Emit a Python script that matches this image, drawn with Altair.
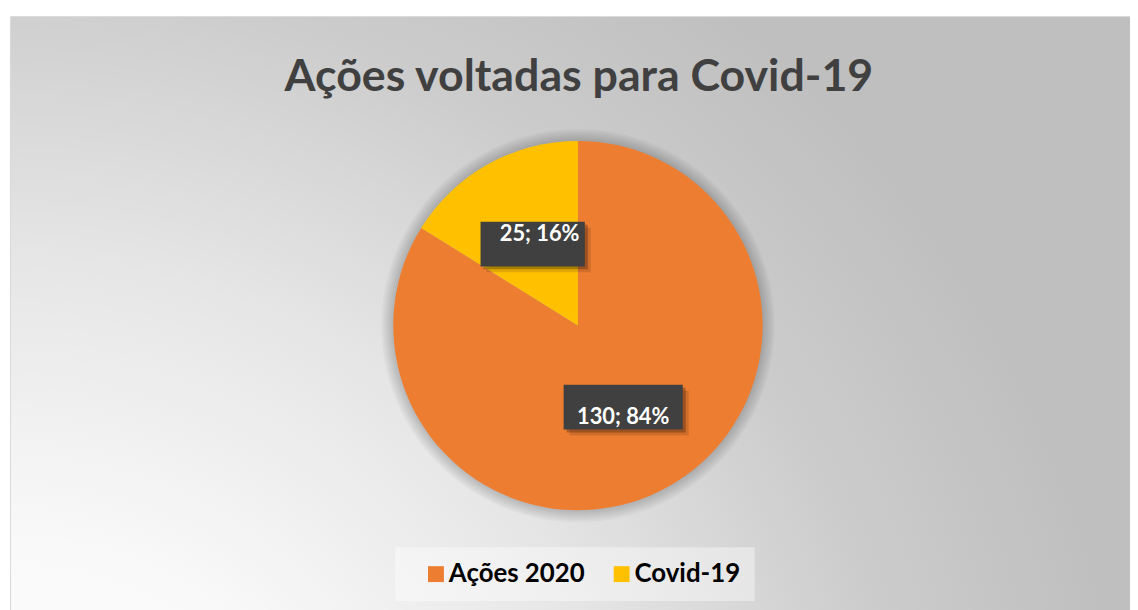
import altair as alt
import numpy as np
import pandas as pd

# ---- data ----
categories = ["Ações 2020", "Covid-19"]
values = [130, 25]
colors = ["#ED7D31", "#FFC000"]
title_text = "Ações voltadas para Covid-19"

# ---- layout (pixels, view coordinates) ----
W, H = 1130, 602
CX, CY = 574.0, 317.7      # pie centre
R = 186                     # pie radius
LR = 0.505 * R              # label distance from centre

vals = np.array(values, dtype=float)
total = vals.sum()
cum = np.cumsum(vals)
mid = 2 * np.pi * (cum - vals / 2) / total
pct = np.round(vals / total * 100).astype(int)
labels = [f"{v}; {p}%" for v, p in zip(values, pct)]

df = pd.DataFrame({
    "cat": categories,
    "value": values,
    "idx": list(range(len(values))),
    "label": labels,
    "cx": LR * np.sin(mid),
    "cy": LR * np.cos(mid),
})

xs = alt.Scale(domain=[-CX, W - CX], nice=False, zero=False)
ys = alt.Scale(domain=[-(H - CY), CY], nice=False, zero=False)

one = alt.Data(values=[{"k": 0}])

# background frame with radial gradient
bg = alt.Chart(one).mark_rect(
    fill={
        "gradient": "radial",
        "x1": 0, "y1": 1, "r1": 0,
        "x2": 0, "y2": 1, "r2": 1,
        "stops": [
            {"offset": 0.0, "color": "#FFFFFF"},
            {"offset": 0.3, "color": "#F9F9F9"},
            {"offset": 0.55, "color": "#E6E6E6"},
            {"offset": 0.8, "color": "#CCCCCC"},
            {"offset": 1.0, "color": "#BFBFBF"},
        ],
    },
    stroke="#D9D9D9",
    strokeWidth=1,
).encode(x=alt.value(2.5), x2=alt.value(W + 10), y=alt.value(6.5), y2=alt.value(H + 10))

# soft shadow around pie
shadows = [
    alt.Chart(one).mark_arc(radius=R + k, theta=0, theta2=2 * np.pi, fill="black", opacity=0.03)
    .encode(x=alt.value(CX), y=alt.value(CY))
    for k in (2, 4, 6, 8, 10, 12)
]

pie = alt.Chart(df).mark_arc(radius=R).encode(
    x=alt.value(CX),
    y=alt.value(CY),
    theta=alt.Theta("value:Q", stack=True),
    color=alt.Color(
        "cat:N",
        scale=alt.Scale(domain=categories, range=colors),
        legend=alt.Legend(
            orient="none", legendX=418, legendY=555, direction="horizontal", title=None,
            symbolType="square", symbolSize=256, symbolStrokeWidth=0, symbolOpacity=1,
            labelFont="Lato", labelFontSize=26, labelFontWeight="bold", labelColor="#000000",
            labelOffset=0, columnPadding=24, padding=0,
        ),
    ),
    order=alt.Order("idx:Q"),
)

legend_box = alt.Chart(one).mark_rect(fill="white", opacity=0.4).encode(
    x=alt.value(390), x2=alt.value(752), y=alt.value(541), y2=alt.value(595)
)

base = alt.Chart(df).transform_calculate(
    bx1="datum.cx - 7.5*length(datum.label)",
    bx2="datum.cx + 7.5*length(datum.label)",
    by1="datum.cy - 22.5",
    by2="datum.cy + 22.5",
    tx="datum.cx + (datum.cy > 0 ? 7 : 0)",
    ty="datum.cy + (datum.cy > 0 ? 10 : -10)",
)

def box_layer(off, color, opacity):
    return base.mark_rect(
        fill=color, opacity=opacity,
        xOffset=off, x2Offset=off, yOffset=off, y2Offset=off,
    ).encode(
        x=alt.X("bx1:Q", scale=xs, axis=None),
        x2="bx2:Q",
        y=alt.Y("by1:Q", scale=ys, axis=None),
        y2="by2:Q",
    )

box_sh2 = box_layer(6, "black", 0.12)
box_sh1 = box_layer(3, "black", 0.25)
box = box_layer(0, "#404040", 1)

text = base.mark_text(
    font="Lato", fontWeight="bold", fontSize=22, color="white", align="center", baseline="middle"
).encode(
    x=alt.X("tx:Q", scale=xs, axis=None),
    y=alt.Y("ty:Q", scale=ys, axis=None),
    text="label:N",
)

chart = alt.layer(
    bg, *shadows, pie, legend_box, box_sh2, box_sh1, box, text
).properties(
    width=W,
    height=H,
    padding=0,
    autosize=alt.AutoSizeParams(type="none"),
    background="white",
    title=alt.TitleParams(
        text=title_text, font="Lato", fontSize=45, fontWeight="bold", color="#404040",
        anchor="middle", frame="group", offset=-90, dx=10,
    ),
).configure_view(strokeWidth=0)

chart.save("out.html", embed_options={"renderer": "svg", "actions": False})
